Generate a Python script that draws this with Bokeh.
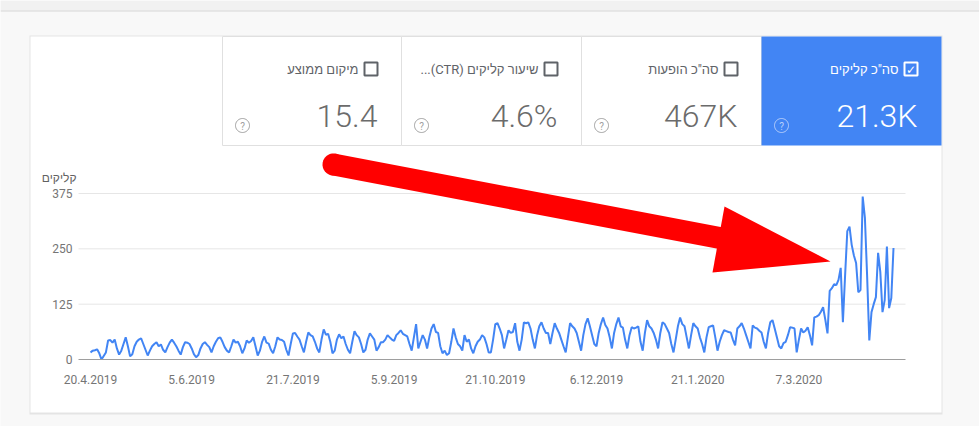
from datetime import datetime, timedelta
import numpy as np
import pandas as pd
from bokeh.plotting import figure
from bokeh.models import (Range1d, FixedTicker, BoxAnnotation, PolyAnnotation,
                          Label, ColumnDataSource)
from bokeh.embed import file_html
from bokeh.resources import INLINE

# ---------------- data ----------------
start_date = "2019-04-20"
clicks = [
    16, 20, 21, 23, 14, 0, 8,
    16, 43, 44, 38, 45, 25, 11,
    20, 35, 50, 30, 7, 12, 30,
    40, 45, 48, 35, 22, 9, 20,
    30, 35, 39, 30, 34, 22, 16,
    28, 38, 45, 38, 30, 20, 11,
    28, 39, 38, 35, 25, 12, 5,
    10, 25, 35, 39, 33, 28, 16,
    30, 40, 48, 50, 40, 28, 20,
    16, 30, 45, 38, 40, 30, 14,
    25, 43, 38, 42, 50, 30, 9,
    20, 40, 52, 38, 36, 22, 14,
    30, 50, 45, 44, 40, 22, 9,
    35, 59, 60, 52, 45, 30, 16,
    40, 61, 55, 52, 40, 25, 16,
    45, 68, 56, 58, 40, 14, 20,
    45, 57, 48, 52, 35, 22, 14,
    40, 64, 55, 50, 35, 16, 22,
    45, 59, 52, 45, 20, 28, 39,
    39, 45, 55, 50, 45, 42, 55,
    60, 66, 58, 55, 52, 35, 20,
    50, 80, 25, 40, 55, 45, 25,
    50, 70, 80, 62, 60, 30, 14,
    20, 10, 14, 40, 70, 50, 35,
    30, 20, 55, 40, 45, 25, 14,
    30, 40, 45, 55, 50, 35, 16,
    16, 45, 80, 82, 70, 55, 25,
    45, 66, 60, 62, 82, 40, 20,
    45, 84, 82, 84, 70, 45, 25,
    55, 75, 84, 70, 60, 60, 35,
    60, 82, 70, 60, 45, 30, 16,
    50, 82, 75, 70, 60, 40, 20,
    55, 80, 93, 75, 55, 35, 30,
    60, 80, 95, 78, 70, 50, 25,
    60, 80, 95, 75, 72, 45, 25,
    55, 73, 70, 72, 75, 40, 20,
    60, 89, 75, 70, 60, 45, 25,
    60, 84, 80, 70, 60, 35, 16,
    45, 75, 95, 80, 75, 50, 25,
    55, 82, 75, 70, 50, 35, 16,
    50, 73, 75, 77, 50, 20, 40,
    55, 66, 64, 62, 61, 45, 32,
    70, 75, 82, 70, 55, 40, 25,
    77, 72, 70, 65, 61, 40, 25,
    60, 84, 89, 70, 50, 30, 25,
    37, 40, 55, 73, 72, 70, 16,
    45, 70, 61, 65, 73, 55, 32,
    95, 97, 100, 108, 118, 90, 59,
    155, 161, 170, 168, 180, 207, 84,
    190, 290, 300, 259, 235, 218, 152,
    157, 368, 320, 190, 43, 107, 125,
    141, 241, 198, 107, 134, 255, 116,
    139, 252,
]
x_tick_labels = ["20.4.2019", "5.6.2019", "21.7.2019", "5.9.2019",
                 "21.10.2019", "6.12.2019", "21.1.2020", "7.3.2020"]
y_ticks = [0, 125, 250, 375]
y_title = "קליקים"
metric_titles = ["מיקום ממוצע", "שיעור קליקים (CTR)...", 'סה"כ הופעות', 'סה"כ קליקים']
metric_values = ["15.4", "4.6%", "467K", "21.3K"]

# ---------------- layout constants (page px) ----------------
W, H = 979, 426
PX_PER_DAY = 2.2
PX_PER_UNIT = 0.4427
ORIGIN_X, ORIGIN_Y = 90, 359          # where the first day / zero sit
PLOT_L, PLOT_R = 78, 905              # extent of the chart area

EPOCH = datetime(1970, 1, 1)
def ms(d):
    return (d - EPOCH).total_seconds() * 1000.0

d0 = datetime.strptime(start_date, "%Y-%m-%d")
DAY_MS = 86400000.0
x_start = ms(d0) - ORIGIN_X / PX_PER_DAY * DAY_MS
x_end = x_start + W / PX_PER_DAY * DAY_MS
y_start = -(H - ORIGIN_Y) / PX_PER_UNIT
y_end = ORIGIN_Y / PX_PER_UNIT

def dx(px):  # page x -> data x
    return x_start + px / W * (x_end - x_start)

def dy(py):  # page y -> data y
    return y_end - py / H * (y_end - y_start)

dates = pd.date_range(start_date, periods=len(clicks), freq="D")
src = ColumnDataSource(dict(date=dates, clicks=clicks))

p = figure(width=W, height=H, x_axis_type="datetime",
           x_range=Range1d(x_start, x_end), y_range=Range1d(y_start, y_end),
           output_backend="svg", toolbar_location=None,
           min_border=0, min_border_left=0, min_border_right=0,
           min_border_top=0, min_border_bottom=0,
           background_fill_color="#f8f8f8", border_fill_color="#f8f8f8",
           outline_line_color=None)

FONT = "Roboto, Liberation Sans"
GREY = "#757575"

# axes (drawn inside, at fixed locations)
p.yaxis.fixed_location = dx(PLOT_L)
p.yaxis.ticker = FixedTicker(ticks=y_ticks)
p.yaxis.axis_line_color = None
p.yaxis.major_tick_line_color = None
p.yaxis.minor_tick_line_color = None
p.yaxis.major_tick_out = 0
p.yaxis.major_tick_in = 0
p.yaxis.major_label_standoff = 6
p.yaxis.major_label_text_font = FONT
p.yaxis.major_label_text_font_size = "12px"
p.yaxis.major_label_text_color = GREY

tick_ms = [ms(datetime.strptime(t, "%d.%m.%Y")) for t in x_tick_labels]
p.xaxis.fixed_location = 0
p.xaxis.bounds = (dx(PLOT_L), dx(PLOT_R))
p.xaxis.ticker = FixedTicker(ticks=tick_ms)
p.xaxis.major_label_overrides = {t: l for t, l in zip(tick_ms, x_tick_labels)}
p.xaxis.axis_line_color = "#9e9e9e"
p.xaxis.axis_line_width = 1
p.xaxis.major_tick_line_color = None
p.xaxis.minor_tick_line_color = None
p.xaxis.major_tick_out = 0
p.xaxis.major_tick_in = 0
p.xaxis.major_label_standoff = 15
p.xaxis.major_label_text_font = FONT
p.xaxis.major_label_text_font_size = "12px"
p.xaxis.major_label_text_color = GREY

p.xgrid.visible = False
p.ygrid.visible = False

# ---------------- decorations (page px) ----------------
def box(l, t, r, b, **kw):
    kw.setdefault("fill_alpha", 1.0)
    kw.setdefault("line_alpha", 1.0)
    p.add_layout(BoxAnnotation(left=dx(l), right=dx(r), top=dy(t), bottom=dy(b),
                               **kw))

def poly(pts, **kw):
    kw.setdefault("fill_alpha", 1.0)
    kw.setdefault("line_alpha", 1.0)
    p.add_layout(PolyAnnotation(xs=[dx(a) for a, _ in pts],
                                ys=[dy(b) for _, b in pts], **kw))

def circ(cx, cy, r, n=48):
    t = np.linspace(0, 2 * np.pi, n, endpoint=False)
    return list(zip(cx + r * np.cos(t), cy + r * np.sin(t)))

def label(px, py, text, **kw):
    p.add_layout(Label(x=dx(px), y=dy(py), text=text, **kw))

RLE, PDF = "\u202b", "\u202c"   # right-to-left embedding for the Hebrew labels

# top bar
box(0, 0, W, 10, fill_color="#f1f1f1", line_color=None, level="image")
box(0, 10, W, 11, fill_color="#d6d6d6", line_color=None, level="image")
# card with shadow
box(29, 35, 942, 414, fill_color="#e4e4e4", line_color=None, level="image")
box(30, 36, 941, 412, fill_color="white", line_color=None, level="image")

tab_edges = [222, 401, 581, 761, 941]
for i in range(4):
    l, r = tab_edges[i], tab_edges[i + 1]
    active = i == 3
    if active:
        box(l, 36, r, 145, fill_color="#4285f4", line_color=None, level="image")
    else:
        box(l, 36, r, 145, fill_color="white", line_color="#e0e0e0",
            line_width=1, level="image")
    fg = "white" if active else "#5f6368"
    # checkbox
    box(r - 37, 62, r - 24, 75, fill_color=None, line_color=fg, line_width=2,
        level="annotation")
    if active:
        label(r - 30.5, 69, "✓", text_font="DejaVu Sans", text_font_size="12px",
              text_color="white", text_align="center", text_baseline="middle",
              text_font_style="bold")
    label(r - 43, 68.5, RLE + metric_titles[i] + PDF, text_font=FONT,
          text_font_size="13px", text_color=fg, text_align="right",
          text_baseline="middle")
    label(r - 24, 115, metric_values[i], text_font="Roboto Light, Roboto",
          text_font_size="32px", text_color="white" if active else "#6b6b6b",
          text_align="right", text_baseline="alphabetic")
    # help icon
    ic = "#b9d0fb" if active else "#9e9e9e"
    poly(circ(l + 20, 125, 7), fill_color=None, line_color=ic, line_width=1,
         level="annotation")
    label(l + 20, 125.5, "?", text_font=FONT, text_font_size="10px",
          text_color=ic, text_align="center", text_baseline="middle")

# y axis title
label(76, 177, y_title, text_font=FONT, text_font_size="12px",
      text_color="#616161", text_align="right", text_baseline="middle")

# ---------------- grid lines (at the y ticks, across the chart area) ----------------
grid_y = [t for t in y_ticks if t != 0]
p.segment(x0=[dx(PLOT_L)] * len(grid_y), y0=grid_y,
          x1=[dx(PLOT_R)] * len(grid_y), y1=grid_y,
          line_color="#e6e6e6", line_width=1)

# ---------------- data line ----------------
p.line(x="date", y="clicks", source=src, line_color="#4285f4", line_width=2)

# ---------------- red arrow ----------------
sx, sy, ex, ey, hw = 333, 164, 722, 238, 11
ux, uy = ex - sx, ey - sy
ln = (ux ** 2 + uy ** 2) ** 0.5
nx, ny = -uy / ln * hw, ux / ln * hw
poly([(sx - nx, sy - ny), (ex - nx, ey - ny), (ex + nx, ey + ny), (sx + nx, sy + ny)],
     fill_color="#ff0000", line_color=None, level="overlay")
poly(circ(sx, sy, hw), fill_color="#ff0000", line_color=None, level="overlay")
poly([(724, 206), (830, 261), (712, 272)], fill_color="#ff0000", line_color=None,
     level="overlay")

open("out.html", "w").write(file_html(p, INLINE))
